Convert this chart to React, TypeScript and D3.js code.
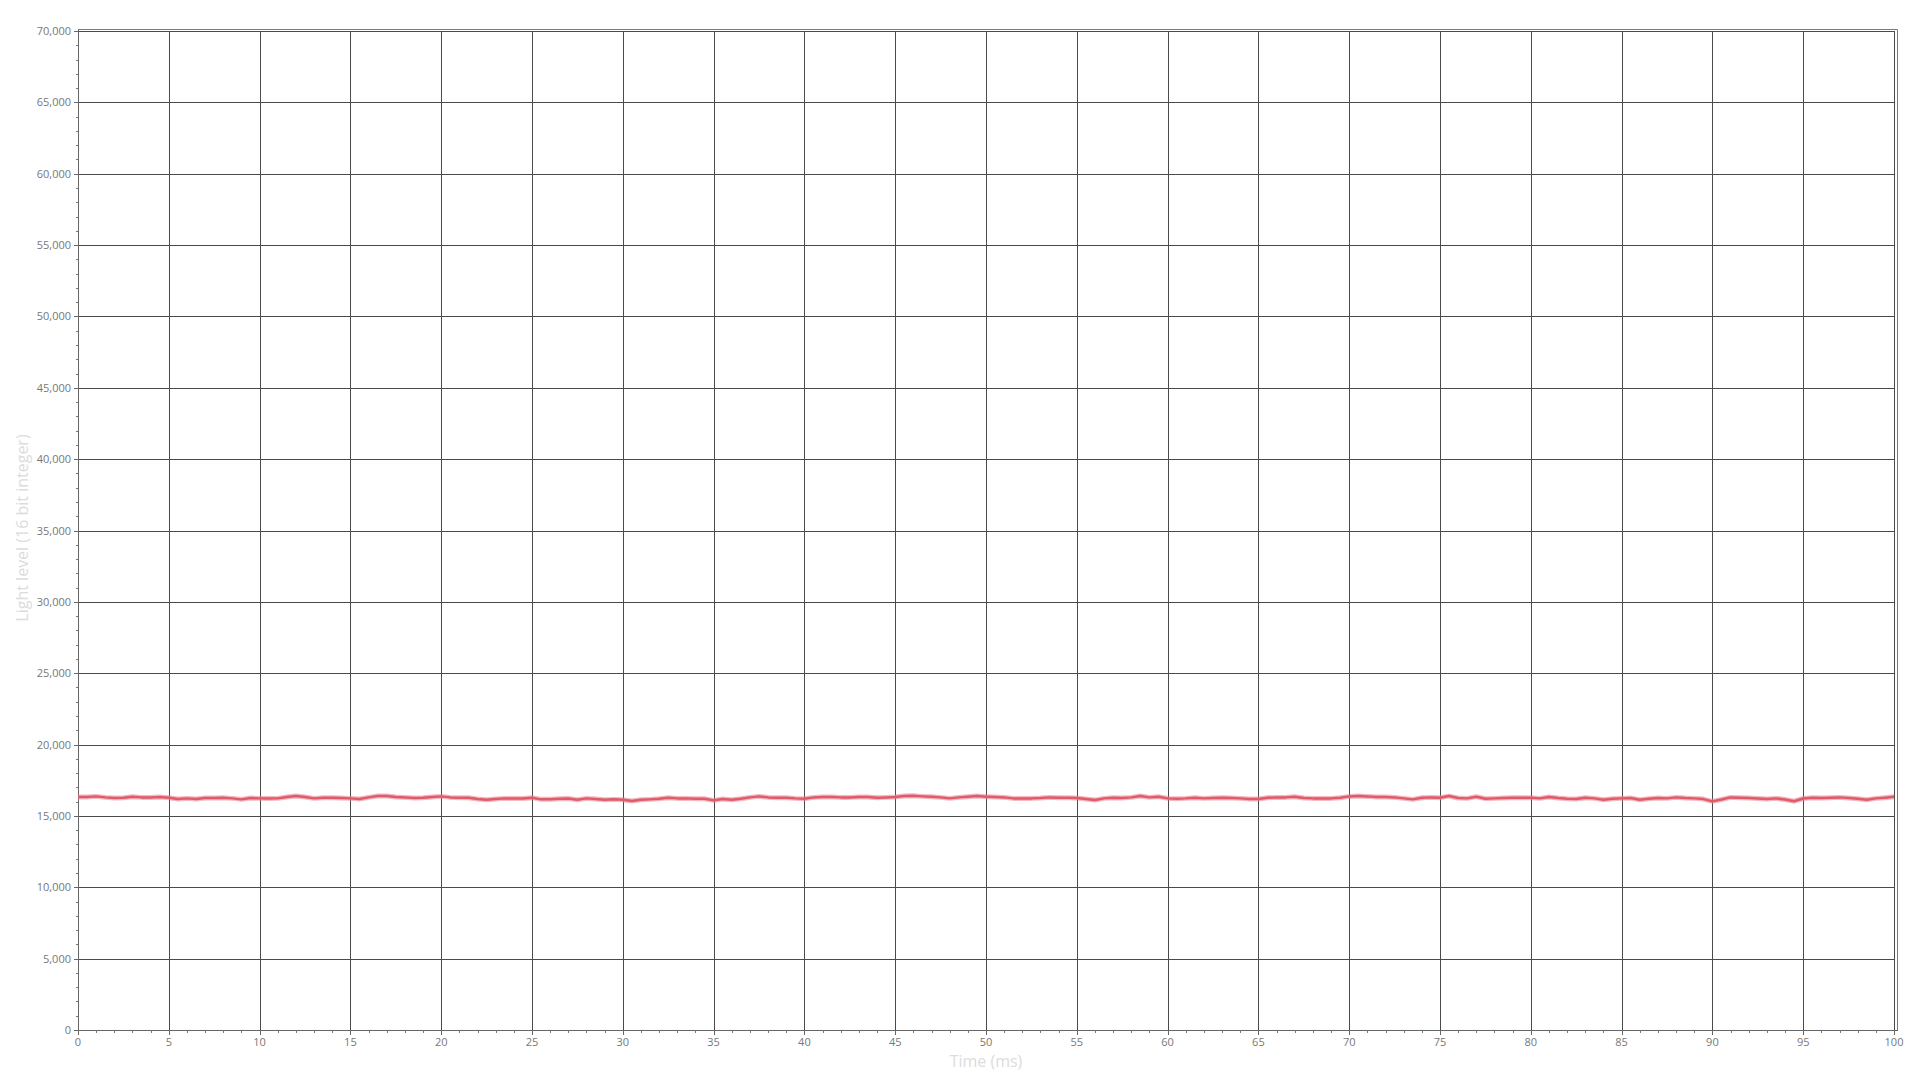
import React, { useEffect, useRef } from "react";
import * as d3 from "d3";

// Time in ms, one sample every 0.5 ms
const timeStart = 0;
const timeStep = 0.5;

// Light level readings (16 bit integer)
const lightLevels: number[] = [
  16320, 16320, 16370, 16300, 16250, 16280, 16350, 16300, 16290, 16320,
  16280, 16180, 16230, 16190, 16250, 16250, 16270, 16230, 16160, 16250,
  16230, 16220, 16230, 16320, 16390, 16330, 16230, 16280, 16270, 16250,
  16230, 16190, 16300, 16390, 16390, 16320, 16300, 16260, 16280, 16320,
  16370, 16300, 16280, 16270, 16190, 16140, 16180, 16230, 16230, 16220,
  16280, 16160, 16170, 16210, 16220, 16140, 16230, 16190, 16140, 16160,
  16140, 16040, 16130, 16160, 16200, 16280, 16230, 16230, 16210, 16200,
  16090, 16180, 16140, 16210, 16300, 16370, 16300, 16280, 16270, 16230,
  16210, 16300, 16320, 16330, 16300, 16300, 16320, 16330, 16280, 16300,
  16320, 16390, 16410, 16370, 16340, 16300, 16230, 16300, 16350, 16390,
  16350, 16320, 16300, 16230, 16230, 16230, 16250, 16300, 16280, 16270,
  16250, 16190, 16110, 16230, 16280, 16250, 16300, 16390, 16300, 16350,
  16230, 16210, 16230, 16270, 16230, 16250, 16270, 16250, 16230, 16180,
  16180, 16270, 16300, 16300, 16350, 16250, 16230, 16230, 16230, 16280,
  16370, 16390, 16370, 16330, 16320, 16300, 16230, 16160, 16270, 16300,
  16280, 16390, 16250, 16230, 16350, 16210, 16230, 16250, 16270, 16270,
  16280, 16230, 16320, 16250, 16210, 16190, 16270, 16230, 16140, 16200,
  16230, 16250, 16130, 16200, 16260, 16230, 16300, 16250, 16230, 16180,
  16020, 16150, 16300, 16280, 16250, 16220, 16190, 16230, 16150, 16030,
  16220, 16270, 16250, 16280, 16300, 16250, 16200, 16130, 16230, 16280,
  16340,
];

const xTicks = d3.range(0, 101, 5);
const xMinorTicks = d3.range(0, 101, 1);
const yTicks = d3.range(0, 70001, 5000);
const yMinorTicks = d3.range(0, 70001, 1000);

const xTitle = "Time (ms)";
const yTitle = "Light level (16 bit integer)";

const W = 1920;
const H = 1080;
const M = { left: 78, right: 1894, top: 31, bottom: 1030 };
const FONT = "'Open Sans', 'Noto Sans', sans-serif";

export default function App() {
  const ref = useRef<SVGSVGElement | null>(null);

  useEffect(() => {
    const svg = d3.select(ref.current);
    svg.selectAll("*").remove();

    const x = d3.scaleLinear().domain([0, 100]).range([M.left, M.right]);
    const y = d3.scaleLinear().domain([0, 70000]).range([M.bottom, M.top]);

    svg.append("rect").attr("width", W).attr("height", H).attr("fill", "#fff");

    // grid
    const g = svg.append("g");
    g.selectAll("line.gx")
      .data(xTicks)
      .join("line")
      .attr("x1", (d) => Math.round(x(d)) + 0.5)
      .attr("x2", (d) => Math.round(x(d)) + 0.5)
      .attr("y1", M.top)
      .attr("y2", M.bottom)
      .attr("stroke", "#4a4a4a")
      .attr("stroke-width", 1);
    g.selectAll("line.gy")
      .data(yTicks)
      .join("line")
      .attr("x1", M.left)
      .attr("x2", M.right)
      .attr("y1", (d) => Math.round(y(d)) + 0.5)
      .attr("y2", (d) => Math.round(y(d)) + 0.5)
      .attr("stroke", "#4a4a4a")
      .attr("stroke-width", 1);

    // outer frame (top and right)
    svg
      .append("path")
      .attr("d", `M${M.left},${M.top - 1.5}H${M.right + 3.5}V${M.bottom}`)
      .attr("fill", "none")
      .attr("stroke", "#7a7a7a")
      .attr("stroke-width", 1);

    // axes lines
    svg
      .append("line")
      .attr("x1", M.left + 0.5)
      .attr("x2", M.left + 0.5)
      .attr("y1", M.top - 1.5)
      .attr("y2", M.bottom + 0.5)
      .attr("stroke", "#666");
    svg
      .append("line")
      .attr("x1", M.left)
      .attr("x2", M.right + 4)
      .attr("y1", M.bottom + 0.5)
      .attr("y2", M.bottom + 0.5)
      .attr("stroke", "#666");

    // y ticks
    svg
      .append("g")
      .selectAll("line")
      .data(yMinorTicks)
      .join("line")
      .attr("x1", M.left - 2)
      .attr("x2", M.left)
      .attr("y1", (d) => Math.round(y(d)) + 0.5)
      .attr("y2", (d) => Math.round(y(d)) + 0.5)
      .attr("stroke", "#777");
    svg
      .append("g")
      .selectAll("line")
      .data(yTicks)
      .join("line")
      .attr("x1", M.left - 4)
      .attr("x2", M.left)
      .attr("y1", (d) => Math.round(y(d)) + 0.5)
      .attr("y2", (d) => Math.round(y(d)) + 0.5)
      .attr("stroke", "#666");
    svg
      .append("g")
      .selectAll("text")
      .data(yTicks)
      .join("text")
      .attr("x", M.left - 7)
      .attr("y", (d) => y(d) + 4)
      .attr("text-anchor", "end")
      .attr("font-family", FONT)
      .attr("font-size", 11)
      .attr("fill", "#777")
      .text((d) => d3.format(",")(d));

    // x ticks
    svg
      .append("g")
      .selectAll("line")
      .data(xMinorTicks)
      .join("line")
      .attr("x1", (d) => Math.round(x(d)) + 0.5)
      .attr("x2", (d) => Math.round(x(d)) + 0.5)
      .attr("y1", M.bottom)
      .attr("y2", M.bottom + 3)
      .attr("stroke", "#777");
    svg
      .append("g")
      .selectAll("line")
      .data(xTicks)
      .join("line")
      .attr("x1", (d) => Math.round(x(d)) + 0.5)
      .attr("x2", (d) => Math.round(x(d)) + 0.5)
      .attr("y1", M.bottom)
      .attr("y2", M.bottom + 5)
      .attr("stroke", "#666");
    svg
      .append("g")
      .selectAll("text")
      .data(xTicks)
      .join("text")
      .attr("x", (d) => x(d))
      .attr("y", M.bottom + 16)
      .attr("text-anchor", "middle")
      .attr("font-family", FONT)
      .attr("font-size", 11)
      .attr("fill", "#777")
      .text((d) => String(d));

    // titles
    svg
      .append("text")
      .attr("x", (M.left + M.right) / 2)
      .attr("y", 1067)
      .attr("text-anchor", "middle")
      .attr("font-family", FONT)
      .attr("font-size", 16)
      .attr("fill", "#dcdcdc")
      .text(xTitle);
    svg
      .append("text")
      .attr("transform", "translate(28,528) rotate(-90)")
      .attr("text-anchor", "middle")
      .attr("font-family", FONT)
      .attr("font-size", 16)
      .attr("fill", "#dcdcdc")
      .text(yTitle);

    // data line
    const line = d3
      .line<number>()
      .x((_, i) => x(timeStart + i * timeStep))
      .y((d) => y(d))
      .curve(d3.curveLinear);
    svg
      .append("path")
      .datum(lightLevels)
      .attr("d", line)
      .attr("fill", "none")
      .attr("stroke", "#e8808c")
      .attr("stroke-width", 5)
      .attr("stroke-opacity", 0.55)
      .attr("stroke-linejoin", "round");
    svg
      .append("path")
      .datum(lightLevels)
      .attr("d", line)
      .attr("fill", "none")
      .attr("stroke", "#e05a6a")
      .attr("stroke-width", 2.5)
      .attr("stroke-linejoin", "round");
  }, []);

  return (
    <svg
      ref={ref}
      width={W}
      height={H}
      style={{ position: "absolute", left: 0, top: 0, display: "block" }}
    />
  );
}
